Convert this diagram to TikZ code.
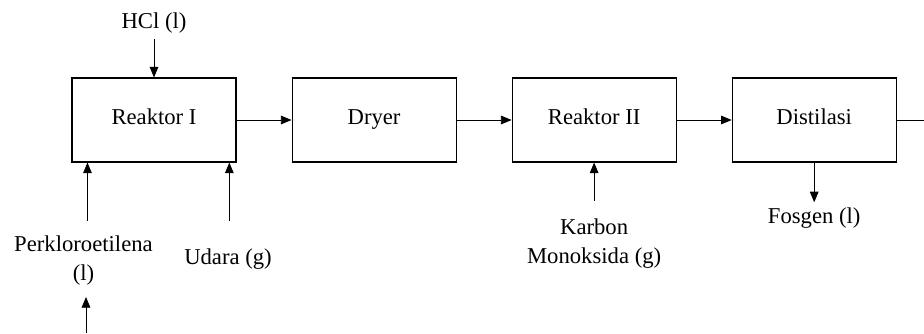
\documentclass[tikz,border=0pt]{standalone}
\usepackage{fontspec}
\setmainfont{Liberation Serif}
\usepackage{tikz}
\usetikzlibrary{arrows.meta,positioning}

\begin{document}
\begin{tikzpicture}[
  font=\fontsize{17}{21.75}\selectfont,
  unit/.style={draw, line width=0.8pt, minimum width=123pt, minimum height=63pt, inner sep=0pt, text height=0.85em, text depth=0.2em},
  lbl/.style={inner sep=4pt, align=center},
  arr/.style={-{Triangle[length=8pt,width=6.5pt]}, line width=0.6pt}
]
\useasboundingbox (0,0) rectangle (693pt,-249.75pt);
% process units
\node[unit] (r1) at (115.5pt,-90pt) {Reaktor I};
\node[unit, right=41.25pt of r1] (dry) {Dryer};
\node[unit, right=41.25pt of dry] (r2) {Reaktor II};
\node[unit, right=41.25pt of r2] (dist) {Distilasi};
% streams
\node[lbl, above=29pt of r1] (hcl) {HCl (l)};
\node[lbl, below=50.8pt of r1.south west, xshift=9pt] (perk) {Perkloroetilena\\(l)};
\node[lbl, below=60.5pt of r1.south east, xshift=-6.4pt] (udara) {Udara (g)};
\node[lbl, below=38pt of r2] (karbon) {Karbon\\Monoksida (g)};
\node[lbl, below=29.8pt of dist] (fosgen) {Fosgen (l)};
\coordinate (feed) at (64.5pt,-249.75pt);
\coordinate (out) at (693pt,-90pt);
% arrows
\foreach \a/\b in {r1/dry,dry/r2,r2/dist} \draw[arr] (\a) -- (\b);
\draw[line width=0.6pt] (dist.east) -- (out);
\draw[arr] (hcl) -- (r1);
\draw[arr] ([xshift=3pt,yshift=7pt]perk.north) -- ([xshift=3pt]perk.north |- r1.south);
\draw[arr] ([xshift=1pt,yshift=17pt]udara.north) -- ([xshift=1pt]udara.north |- r1.south);
\draw[arr] ([yshift=9.5pt]karbon.north) -- (r2.south);
\draw[arr] (dist) -- (fosgen);
\draw[arr] (feed) -- ++(0,27pt);
\end{tikzpicture}
\end{document}
